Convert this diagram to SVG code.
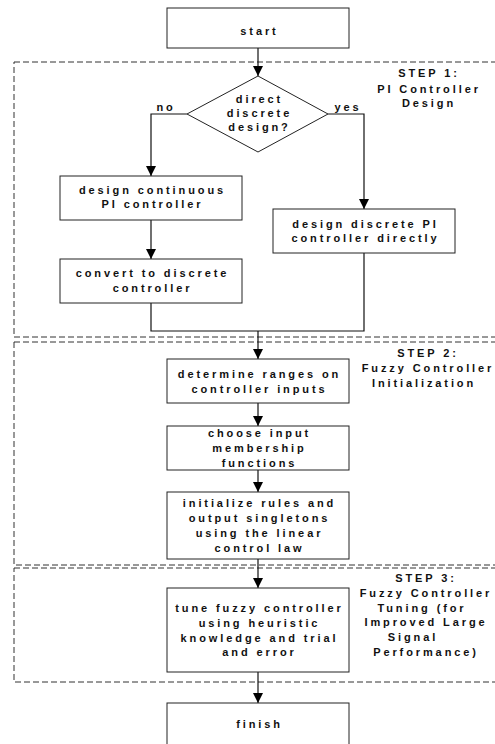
<svg xmlns="http://www.w3.org/2000/svg" width="495" height="744" viewBox="0 0 495 744">
<defs>
<marker id="ah" viewBox="0 0 10 10" refX="10" refY="5" markerWidth="10" markerHeight="10" markerUnits="userSpaceOnUse" orient="auto">
<path d="M0,0 L10,5 L0,10 Z" fill="#000"/>
</marker>
</defs>
<style>
.box{fill:#fff;stroke:#222;stroke-width:1}
.grp{fill:none;stroke:#333;stroke-width:1;stroke-dasharray:6 3}
.con{fill:none;stroke:#111;stroke-width:1.2}
text{font-family:"Liberation Sans",Arial,sans-serif;font-weight:bold;font-size:11px;letter-spacing:2.9px;fill:#111;text-anchor:middle}
</style>
<rect width="495" height="744" fill="#fff"/>
<g id="step1">
<rect class="grp" x="14" y="62" width="500" height="275"/>
<text x="429" y="77">STEP 1:</text>
<text x="429" y="93">PI Controller</text>
<text x="429" y="107">Design</text>
</g>
<g id="step2">
<rect class="grp" x="14" y="342" width="500" height="223"/>
<text x="428" y="357">STEP 2:</text>
<text x="428" y="372">Fuzzy Controller</text>
<text x="424" y="387">Initialization</text>
</g>
<g id="step3">
<rect class="grp" x="14" y="568" width="500" height="114"/>
<text x="426" y="582">STEP 3:</text>
<text x="426" y="597">Fuzzy Controller</text>
<text x="422" y="612">Tuning (for</text>
<text x="426" y="626">Improved Large</text>
<text x="413" y="641">Signal</text>
<text x="426" y="656">Performance)</text>
</g>
<g id="connectors">
<path class="con" d="M258,48 V76" marker-end="url(#ah)"/>
<path class="con" d="M187,114 H151 V176" marker-end="url(#ah)"/>
<path class="con" d="M328,114 H364 V209" marker-end="url(#ah)"/>
<path class="con" d="M151,220 V259" marker-end="url(#ah)"/>
<path class="con" d="M151,303 V331 H364 V253"/>
<path class="con" d="M258,331 V359" marker-end="url(#ah)"/>
<path class="con" d="M258,403 V426" marker-end="url(#ah)"/>
<path class="con" d="M258,470 V492" marker-end="url(#ah)"/>
<path class="con" d="M258,559 V588" marker-end="url(#ah)"/>
<path class="con" d="M258,672 V703" marker-end="url(#ah)"/>
<text x="166" y="111">no</text>
<text x="348" y="111">yes</text>
</g>
<g id="start">
<rect class="box" x="167" y="8" width="182" height="40"/>
<text x="259.5" y="35">start</text>
</g>
<g id="decision">
<path class="box" d="M258,76 L328,114 L258,152 L187,114 Z"/>
<text x="259.5" y="103">direct</text>
<text x="259.5" y="117">discrete</text>
<text x="259.5" y="131">design?</text>
</g>
<g id="continuous">
<rect class="box" x="60" y="176" width="182" height="44"/>
<text x="152.5" y="194">design continuous</text>
<text x="152.5" y="208">PI controller</text>
</g>
<g id="convert">
<rect class="box" x="60" y="259" width="182" height="44"/>
<text x="152.5" y="277">convert to discrete</text>
<text x="152.5" y="292">controller</text>
</g>
<g id="discrete">
<rect class="box" x="273" y="209" width="182" height="44"/>
<text x="365.5" y="228">design discrete PI</text>
<text x="365.5" y="242">controller directly</text>
</g>
<g id="ranges">
<rect class="box" x="167" y="359" width="182" height="44"/>
<text x="259.5" y="378">determine ranges on</text>
<text x="259.5" y="393">controller inputs</text>
</g>
<g id="membership">
<rect class="box" x="167" y="426" width="182" height="44"/>
<text x="259.5" y="437">choose input</text>
<text x="259.5" y="452">membership</text>
<text x="259.5" y="467">functions</text>
</g>
<g id="initialize">
<rect class="box" x="167" y="492" width="182" height="67"/>
<text x="259.5" y="507">initialize rules and</text>
<text x="259.5" y="522">output singletons</text>
<text x="259.5" y="537">using the linear</text>
<text x="259.5" y="552">control law</text>
</g>
<g id="tune">
<rect class="box" x="167" y="588" width="182" height="84"/>
<text x="259.5" y="612">tune fuzzy controller</text>
<text x="259.5" y="627">using heuristic</text>
<text x="259.5" y="642">knowledge and trial</text>
<text x="259.5" y="656">and error</text>
</g>
<g id="finish">
<rect class="box" x="167" y="703" width="182" height="50"/>
<text x="259.5" y="728">finish</text>
</g>
</svg>
